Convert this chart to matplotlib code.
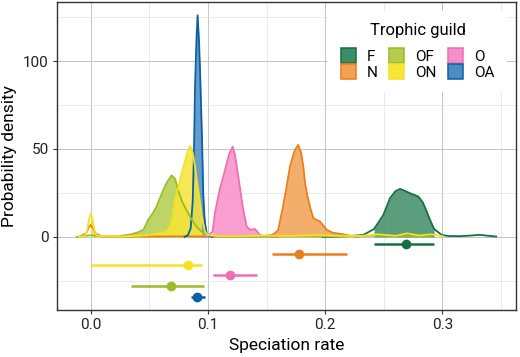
"""Posterior speciation rate densities by trophic guild."""
import matplotlib

matplotlib.use("Agg")

import matplotlib.pyplot as plt
import numpy as np
from matplotlib.patches import Patch

plt.rcParams["font.family"] = ["Roboto", "DejaVu Sans"]

guilds = ["F", "N", "O", "OA", "OF", "ON"]
legend_order = ["F", "N", "OF", "ON", "O", "OA"]

line_colors = {
    "F": "#17703f",
    "N": "#ea7d1c",
    "O": "#f06db3",
    "OA": "#0b5fa5",
    "OF": "#9bbb27",
    "ON": "#f5e11e",
}
fill_colors = {
    "F": "#3d8d68",
    "N": "#f2a052",
    "O": "#f78ec8",
    "OA": "#4a8cc4",
    "OF": "#b4cd4c",
    "ON": "#f7e539",
}

# density curves
f_x = [0.198, 0.210, 0.221, 0.2326, 0.2418, 0.2497, 0.2554, 0.260, 0.264, 0.268, 0.2725,
       0.2795, 0.2835, 0.2867, 0.290, 0.293, 0.2995, 0.305, 0.315, 0.325, 0.332, 0.338, 0.346]
f_y = [0.0, 0.2, 0.5, 1.1, 4.5, 12.5, 22.0, 26.0, 27.3, 26.2, 24.8,
       23.0, 19.5, 14.4, 9.0, 4.5, 1.1, 0.5, 0.4, 0.8, 1.2, 0.7, 0.2]

n_x = [-0.010, -0.004, -0.002, 0.0, 0.002, 0.004, 0.010, 0.040, 0.080, 0.110, 0.140, 0.148,
       0.155, 0.157, 0.160, 0.164, 0.167, 0.170, 0.174, 0.177, 0.1795, 0.1814, 0.183, 0.185,
       0.1875, 0.190, 0.1957, 0.2014, 0.206, 0.210, 0.215, 0.219, 0.228]
n_y = [0.0, 2.0, 5.0, 6.8, 5.0, 2.0, 0.2, 0.2, 0.3, 0.2, 0.3, 0.5,
       1.2, 2.0, 4.0, 17.0, 28.0, 40.0, 49.0, 52.3, 48.0, 40.0, 30.0, 23.0,
       16.0, 10.6, 8.7, 4.0, 2.5, 2.0, 1.5, 1.0, 0.0]

o_x = [0.096, 0.100, 0.104, 0.106, 0.110, 0.1146, 0.118, 0.1211, 0.123, 0.126, 0.1297,
       0.133, 0.136, 0.140, 0.142, 0.1445, 0.150, 0.160]
o_y = [0.0, 0.3, 3.0, 13.6, 26.7, 38.0, 47.0, 51.3, 47.0, 34.0, 17.0,
       6.0, 4.0, 4.5, 3.0, 1.0, 0.2, 0.0]

oa_x = [0.080, 0.083, 0.0853, 0.087, 0.088, 0.089, 0.0902, 0.0912, 0.0925, 0.0935, 0.095,
        0.096, 0.097, 0.0975, 0.099, 0.101, 0.104]
oa_y = [0.0, 1.0, 5.0, 20.0, 45.0, 85.0, 112.0, 126.0, 110.0, 90.0, 55.0,
        25.0, 12.0, 8.0, 2.0, 0.5, 0.0]

of_x = [-0.012, -0.005, 0.0, 0.005, 0.010, 0.020, 0.030, 0.0344, 0.040, 0.045, 0.049,
        0.053, 0.056, 0.059, 0.062, 0.065, 0.069, 0.072, 0.0745, 0.078, 0.082, 0.086,
        0.090, 0.093, 0.0967, 0.100, 0.105, 0.120, 0.150, 0.180, 0.200, 0.220, 0.250,
        0.270, 0.290]
of_y = [0.0, 0.5, 1.0, 0.5, 0.2, 0.2, 1.0, 1.5, 2.5, 4.0, 9.7,
        13.5, 17.0, 22.0, 26.7, 31.0, 35.0, 33.0, 26.7, 20.0, 15.0, 10.0,
        6.0, 4.0, 2.0, 1.0, 0.5, 0.2, 0.2, 0.4, 0.5, 0.3, 0.8,
        0.5, 0.2]

on_x = [-0.010, -0.005, -0.003, -0.0015, 0.0, 0.0015, 0.003, 0.005, 0.010, 0.020, 0.030,
        0.040, 0.050, 0.058, 0.064, 0.066, 0.068, 0.070, 0.072, 0.076, 0.080, 0.0825,
        0.0848, 0.087, 0.089, 0.091, 0.093, 0.0947, 0.0975, 0.100, 0.110, 0.130, 0.150,
        0.170, 0.190, 0.210, 0.230, 0.245, 0.260, 0.270, 0.280, 0.290, 0.300]
on_y = [0.0, 0.5, 4.0, 10.0, 13.0, 10.0, 4.0, 0.8, 0.3, 0.3, 0.4,
        0.6, 1.0, 2.0, 3.0, 4.5, 6.5, 12.0, 21.0, 32.0, 42.0, 48.0,
        51.7, 48.0, 40.0, 30.0, 21.0, 12.0, 3.0, 1.0, 0.5, 0.5, 0.8,
        0.5, 1.0, 0.7, 0.5, 1.5, 0.6, 2.0, 0.8, 1.5, 0.5]

curves = {
    "F": (f_x, f_y),
    "N": (n_x, n_y),
    "O": (o_x, o_y),
    "OA": (oa_x, oa_y),
    "OF": (of_x, of_y),
    "ON": (on_x, on_y),
}

# point estimates and intervals
point_est = {"F": 0.269, "N": 0.178, "ON": 0.0833, "O": 0.1189, "OF": 0.0685, "OA": 0.0904}
interval_lo = {"F": 0.2418, "N": 0.155, "ON": 0.0, "O": 0.104, "OF": 0.0344, "OA": 0.0853}
interval_hi = {"F": 0.293, "N": 0.219, "ON": 0.0947, "O": 0.142, "OF": 0.0967, "OA": 0.0975}
interval_y = {"F": -3.8, "N": -9.7, "ON": -15.7, "O": -21.8, "OF": -27.8, "OA": -33.9}

fig = plt.figure(figsize=(5.2, 3.57), dpi=100)
ax = fig.add_axes([0.1096, 0.132, 0.8827, 0.862])

for g in guilds:
    x = np.asarray(curves[g][0])
    y = np.asarray(curves[g][1])
    mask = (x >= interval_lo[g] - 1e-9) & (x <= interval_hi[g] + 1e-9)
    ax.fill_between(x, 0, y, where=mask, color=fill_colors[g], alpha=0.85, linewidth=0, zorder=2)
    ax.plot(x, y, color=line_colors[g], linewidth=1.3, zorder=3)

for g in guilds:
    ax.plot([interval_lo[g], interval_hi[g]], [interval_y[g]] * 2,
            color=line_colors[g], linewidth=1.8, solid_capstyle="butt", zorder=4)
    ax.plot(point_est[g], interval_y[g], "o", color=line_colors[g], markersize=6, zorder=5)

ax.set_xlim(-0.0288, 0.3629)
ax.set_ylim(-41.5, 133.5)
ax.set_xticks([0.0, 0.1, 0.2, 0.3])
ax.set_xticklabels(["0.0", "0.1", "0.2", "0.3"])
ax.set_xticks([0.05, 0.15, 0.25, 0.35], minor=True)
ax.set_yticks([0, 50, 100])
ax.set_yticks([-25, 25, 75, 125], minor=True)
ax.grid(True, which="major", color="#c4c4c4", linewidth=0.7, zorder=0)
ax.grid(True, which="minor", color="#e6e6e6", linewidth=0.6, zorder=0)
ax.set_axisbelow(True)
ax.tick_params(which="major", length=3, width=0.8, color="#333333", labelsize=11,
               labelcolor="#222222", pad=3)
ax.tick_params(which="minor", length=0)
for spine in ax.spines.values():
    spine.set_color("#333333")
    spine.set_linewidth(1.0)

ax.set_xlabel("Speciation rate", fontsize=12.5, labelpad=4)
ax.set_ylabel("Probability density", fontsize=12.5, labelpad=4)

handles = [Patch(facecolor=fill_colors[g], edgecolor=line_colors[g], linewidth=1.1, label=g)
           for g in legend_order]
leg = ax.legend(handles=handles, title="Trophic guild", ncol=3, loc="upper right",
                bbox_to_anchor=(0.996, 0.997), fontsize=11, title_fontsize=12,
                frameon=True, fancybox=False, edgecolor="none", framealpha=1.0,
                handlelength=1.0, handleheight=1.2, labelspacing=0.0,
                columnspacing=0.75, handletextpad=0.7, borderpad=0.8)
leg._legend_box.sep = 7
leg.set_zorder(10)

fig.savefig("out.png", dpi=100)
